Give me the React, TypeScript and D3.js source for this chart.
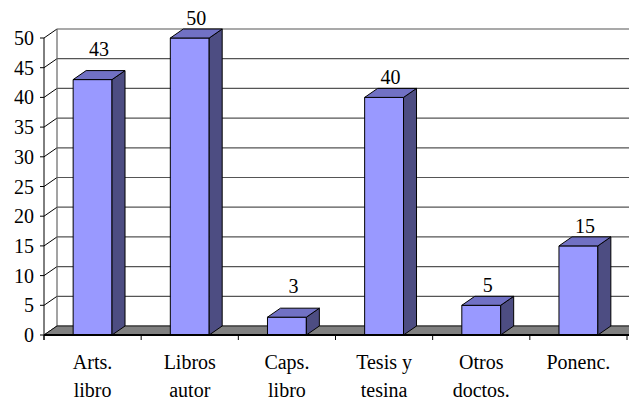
import React, { useEffect, useRef } from "react";
import * as d3 from "d3";

const categories: string[][] = [
  ["Arts.", "libro"],
  ["Libros", "autor"],
  ["Caps.", "libro"],
  ["Tesis y", "tesina"],
  ["Otros", "doctos."],
  ["Ponenc."],
];
const values: number[] = [43, 50, 3, 40, 5, 15];
const yTicks: number[] = [0, 5, 10, 15, 20, 25, 30, 35, 40, 45, 50];

const W = 629;
const H = 403;
const DX = 13;
const DY = -9;
const FRONT = "#9999FF";
const TOP = "#7171C4";
const SIDE = "#4D4D82";
const FLOOR = "#808080";

export default function App() {
  const ref = useRef<SVGSVGElement | null>(null);
  const left = 44;
  const right = 627;
  const bottom = 335;
  const top = 38;
  const keys = categories.map((c, i) => String(i));
  const x = d3.scaleBand<string>().domain(keys).range([left, right]).paddingInner(0.6).paddingOuter(0.3);
  const y = d3.scaleLinear().domain([0, 50]).range([bottom, top]);
  const step = x.step();
  const bw = x.bandwidth();
  const gridBack = yTicks.map((t) => y(t) + DY);
  const catTicks = d3.range(categories.length + 1).map((i) => left + i * step);

  const labelPos = values.map((v, i) => {
    const cx = (x(String(i)) as number) + bw / 2 + DX / 2;
    let base = y(v) + DY - 4;
    const h = 13.5;
    for (const g of gridBack) {
      if (g > base - h && g < base + 1) {
        base = g - 3;
      }
    }
    return { cx, base };
  });

  useEffect(() => {
    if (!ref.current) return;
    d3.select(ref.current)
      .selectAll("text")
      .each(function () {
        (this as SVGTextElement).style.setProperty("font-family", "Liberation Serif", "important");
        (this as SVGTextElement).style.setProperty("font-size", "20px", "important");
      });
  }, []);

  return (
    <svg ref={ref} width={W} height={H} style={{ position: "absolute", left: 0, top: 0, background: "#fff" }}>
      <rect x={0} y={0} width={W} height={H} fill="#fff" />
      {yTicks.map((t, i) => (
        <g key={"g" + i}>
          <line x1={left + DX} x2={W + 20} y1={y(t) + DY} y2={y(t) + DY} stroke="#555" strokeWidth={1.2} />
          <line x1={left} x2={left + DX} y1={y(t)} y2={y(t) + DY} stroke="#000" strokeWidth={1} />
        </g>
      ))}
      <line x1={left + DX} x2={left + DX} y1={y(50) + DY} y2={y(0) + DY} stroke="#666" strokeWidth={1.2} />
      <path
        d={`M${left},${bottom}L${right + 20},${bottom}L${right + 20 + DX},${bottom + DY}L${left + DX},${bottom + DY}Z`}
        fill={FLOOR}
        stroke="#000"
        strokeWidth={0.8}
      />
      {values.map((v, i) => {
        const x0 = x(String(i)) as number;
        const x1 = x0 + bw;
        const yt = y(v);
        return (
          <g key={"b" + i} stroke="#000" strokeWidth={1} strokeLinejoin="round">
            <rect x={x0} y={yt} width={bw} height={bottom - yt} fill={FRONT} />
            <path d={`M${x1},${yt}L${x1 + DX},${yt + DY}L${x1 + DX},${bottom + DY}L${x1},${bottom}Z`} fill={SIDE} />
            <path d={`M${x0},${yt}L${x0 + DX},${yt + DY}L${x1 + DX},${yt + DY}L${x1},${yt}Z`} fill={TOP} />
          </g>
        );
      })}
      <line x1={left} x2={left} y1={top} y2={bottom + 5} stroke="#000" strokeWidth={1} />
      <line x1={left} x2={W} y1={bottom} y2={bottom} stroke="#000" strokeWidth={2} />
      {yTicks.map((t, i) => (
        <g key={"t" + i}>
          <line x1={left - 4} x2={left} y1={y(t)} y2={y(t)} stroke="#000" strokeWidth={1} />
          <text x={34} y={y(t) + 7} textAnchor="end" fontFamily="Liberation Serif" fontSize={20} fill="#000">
            {t}
          </text>
        </g>
      ))}
      {catTicks.map((cx, i) => (
        <line key={"c" + i} x1={cx} x2={cx} y1={bottom} y2={bottom + 5} stroke="#000" strokeWidth={1} />
      ))}
      {categories.map((lines, i) => (
        <text key={"l" + i} x={(x(String(i)) as number) + bw / 2} textAnchor="middle" fontFamily="Liberation Serif" fontSize={20} fill="#000">
          {lines.map((ln, j) => (
            <tspan key={j} x={(x(String(i)) as number) + bw / 2} y={369 + j * 28}>
              {ln}
            </tspan>
          ))}
        </text>
      ))}
      {values.map((v, i) => (
        <text key={"v" + i} x={labelPos[i].cx} y={labelPos[i].base} textAnchor="middle" fontFamily="Liberation Serif" fontSize={20} fill="#000">
          {v}
        </text>
      ))}
    </svg>
  );
}
